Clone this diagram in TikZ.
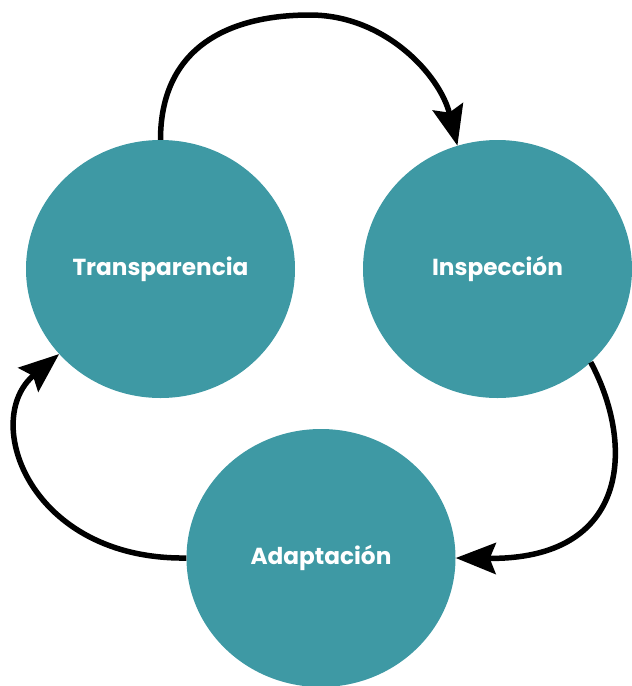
\documentclass[tikz,border=0pt]{standalone}
\usepackage{fontspec}
\setmainfont{Poppins}
\usetikzlibrary{shapes.geometric,arrows.meta}
\definecolor{teal1}{HTML}{3E99A4}
\tikzset{
  phase/.style={ellipse, fill=teal1, draw=none, minimum width=269pt, minimum height=258pt, inner sep=0pt,
    text=white, font=\fontsize{23.2}{27}\selectfont\bfseries},
  cyc/.style={line width=5.5pt, -{Stealth[length=40pt,width=31pt,inset=6pt]}}
}
\begin{document}
\begin{tikzpicture}[x=1pt,y=-1pt]
\useasboundingbox (0,0) rectangle (632,686);
\clip (0,0) rectangle (632,686);
\node[phase] (T) at (160.5,269) {Transparencia};
\node[phase] (I) at (497.5,269) {Inspección};
\node[phase] (A) at (321,558) {Adaptación};
\coordinate (peak) at (310,15);
\draw[line width=5.5pt] (T.north) .. controls (160.5,50) and (225,15) .. (peak);
\draw[cyc] (peak) .. controls (385,15) and (440,75) .. (I.108);
\draw[cyc] (I.-45) .. controls (635,445) and (630,560) .. (A.east);
\draw[cyc] (A.west) .. controls (30,560) and (-20,420) .. (T.220);
\end{tikzpicture}
\end{document}
